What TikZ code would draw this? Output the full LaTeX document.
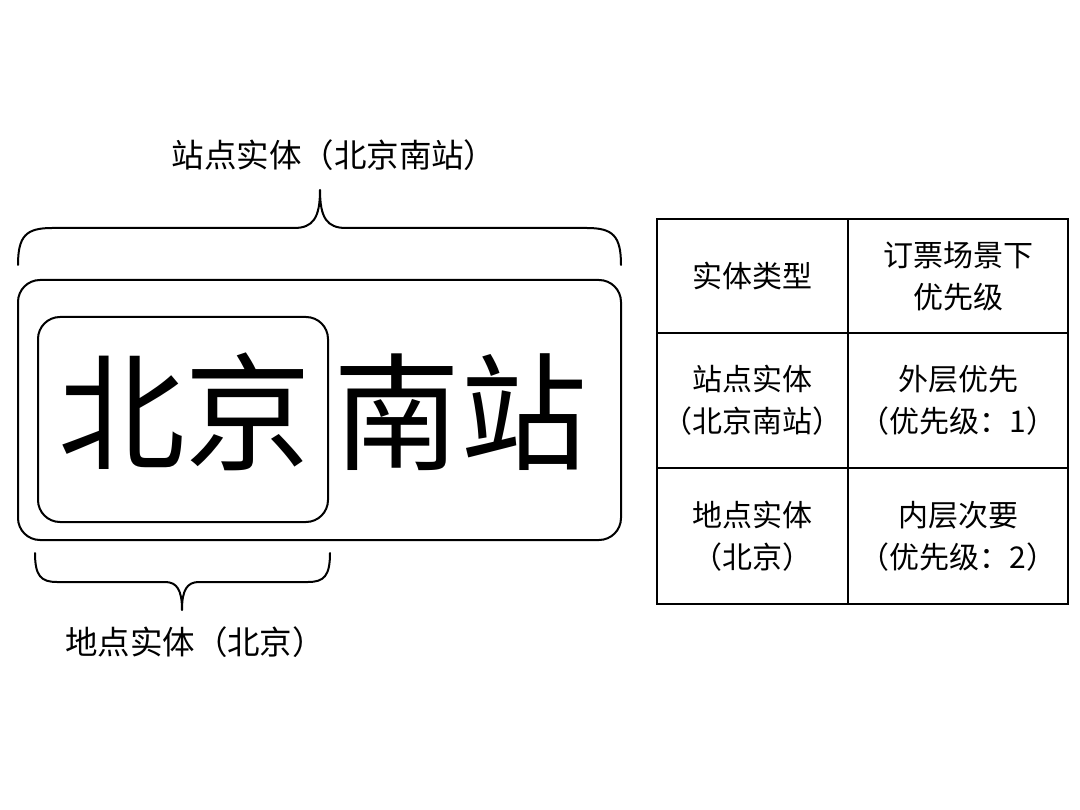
\documentclass[tikz,border=0pt]{standalone}
\usepackage{fontspec}
\newfontfamily\cjk{Noto Sans CJK SC}
\begin{document}
\begin{tikzpicture}[x=1pt,y=-1pt,
  lbl/.style={font=\cjk\fontsize{30}{42}\selectfont, align=center, inner sep=0pt},
  biglbl/.style={font=\cjk\fontsize{32.5}{40}\selectfont, inner sep=0pt},
  big/.style={font=\cjk\fontsize{127}{127}\selectfont, inner sep=0pt},
  box/.style={draw, line width=2pt, rounded corners=22pt, inner sep=0pt},
  cell/.style={draw, line width=2pt, inner sep=0pt, lbl},
  brace/.style={line width=2pt, line cap=round, line join=round}]
\useasboundingbox[fill=white] (0,0) rectangle (1080,810);
% boxes and big text
\node[box, minimum width=603pt, minimum height=260pt] (outer) at (319.5,410) {};
\node[box, minimum width=290pt, minimum height=205pt] (inner) at (183,419.5) {};
\node[big] (bj) at (185,412) {北京};
\node[big] (nz) at (460,412) {南站};
% top brace
\draw[brace] (18,265) .. controls (18,236) and (26,228) .. (52,228) -- (294,228)
  .. controls (313,228) and (320,218) .. (320,190)
  .. controls (320,218) and (327,228) .. (346,228) -- (587,228)
  .. controls (613,228) and (621,236) .. (621,265);
% bottom brace
\draw[brace] (35,553) .. controls (35,576) and (41,582) .. (57,582) -- (165,582)
  .. controls (177,582) and (182,590) .. (182,610)
  .. controls (182,590) and (187,582) .. (199,582) -- (308,582)
  .. controls (324,582) and (330,576) .. (330,553);
% labels
\node[biglbl] (toplbl) at (334,155) {站点实体（北京南站）};
\node[biglbl] (botlbl) at (195,642) {地点实体（北京）};
% table
\node[cell, minimum width=191pt, minimum height=114pt] (c11) at (752.5,276) {实体类型};
\node[cell, minimum width=220pt, minimum height=114pt] (c12) at (958,276) {订票场景下\\优先级};
\node[cell, minimum width=191pt, minimum height=135pt] (c21) at (752.5,400.5) {站点实体\\（北京南站）};
\node[cell, minimum width=220pt, minimum height=135pt] (c22) at (958,400.5) {外层优先\\（优先级：1）};
\node[cell, minimum width=191pt, minimum height=136pt] (c31) at (752.5,536) {地点实体\\（北京）};
\node[cell, minimum width=220pt, minimum height=136pt] (c32) at (958,536) {内层次要\\（优先级：2）};
\end{tikzpicture}
\end{document}
